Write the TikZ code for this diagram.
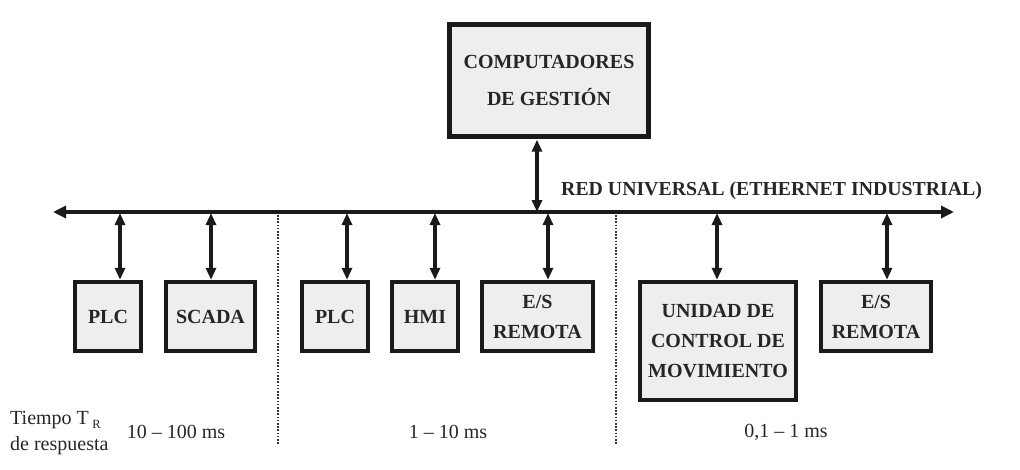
\documentclass[tikz,border=0pt]{standalone}
\usepackage{fontspec}
\setmainfont{Liberation Serif}
\usetikzlibrary{arrows.meta}
\definecolor{boxfill}{HTML}{EEEEEE}
\definecolor{ink}{HTML}{1A1A1A}
\definecolor{txt}{HTML}{262626}
\begin{document}
\begin{tikzpicture}[x=1pt,y=-1pt,
  unit/.style={draw=ink, line width=4.4pt, fill=boxfill, text=txt,
    font=\fontsize{20}{30}\selectfont\bfseries, align=center,
    inner sep=0pt, minimum height=69pt},
  link/.style={draw=ink, line width=3.6pt,
    {Triangle[length=12pt,width=10pt]}-{Triangle[length=12pt,width=10pt]}, shorten <=1pt},
  bus/.style={draw=ink, line width=3.8pt,
    {Triangle[length=13pt,width=12pt]}-{Triangle[length=13pt,width=12pt]}},
  zone/.style={draw=ink!90, line width=2.2pt, dash pattern=on 1.6pt off 1.6pt},
  plain/.style={text=txt, font=\fontsize{20}{24}\selectfont, inner sep=0pt}]
\useasboundingbox (0,0) rectangle (1020,469);

% management computers
\node[unit, minimum width=199pt, minimum height=112pt,
  font=\fontsize{20}{37}\selectfont\bfseries] (comp) at (549,80.5)
  {COMPUTADORES\\DE GESTIÓN};

% field devices
\node[unit, minimum width=66pt] (plcA) at (108,316.5) {PLC};
\node[unit, minimum width=89pt] (scada) at (210.5,316.5) {SCADA};
\node[unit, minimum width=66pt] (plcB) at (335,316.5) {PLC};
\node[unit, minimum width=66pt] (hmi) at (425,316.5) {HMI};
\node[unit, minimum width=111pt] (esA) at (537.5,316.5) {E/S\\REMOTA};
\node[unit, minimum width=156pt, minimum height=118pt] (mov) at (718,341)
  {UNIDAD DE\\CONTROL DE\\MOVIMIENTO};
\node[unit, minimum width=110pt] (esB) at (876,316.5) {E/S\\REMOTA};

% the network bus
\coordinate (busL) at (53,212);
\coordinate (busR) at (954,212);
\draw[bus] (busL) -- (busR);
\node[plain, font=\fontsize{19.8}{24}\selectfont\bfseries, anchor=base west]
  (busname) at (561,195) {RED UNIVERSAL (ETHERNET INDUSTRIAL)};

% taps on the bus
\coordinate (tComp) at (537,212);
\coordinate (tPlcA) at (120,212);
\coordinate (tScada) at (211,212);
\coordinate (tPlcB) at (347,212);
\coordinate (tHmi) at (435,212);
\coordinate (tEsA) at (548,212);
\coordinate (tMov) at (717,212);
\coordinate (tEsB) at (887,212);

\draw[link] (tComp |- comp.south) -- (tComp);
\foreach \t/\n in {tPlcA/plcA, tScada/scada, tPlcB/plcB, tHmi/hmi,
                   tEsA/esA, tMov/mov, tEsB/esB}
  \draw[link] (\t) -- (\t |- \n.north);

% response-time zones
\coordinate (zA1) at (278,215);
\coordinate (zA2) at (278,445);
\coordinate (zB1) at (616,215);
\coordinate (zB2) at (616,445);
\draw[zone] (zA1) -- (zA2);
\draw[zone] (zB1) -- (zB2);

\node[plain, align=left, anchor=west, font=\fontsize{20}{26}\selectfont]
  (tiempo) at (10,433) {Tiempo T\,\raisebox{-0.45ex}{\fontsize{12.5}{12}\selectfont R}\\de respuesta};
\node[plain] (r1) at (176,432) {10 – 100 ms};
\node[plain] (r2) at (448,432) {1 – 10 ms};
\node[plain] (r3) at (786,432) {0,1 – 1 ms};
\end{tikzpicture}
\end{document}
